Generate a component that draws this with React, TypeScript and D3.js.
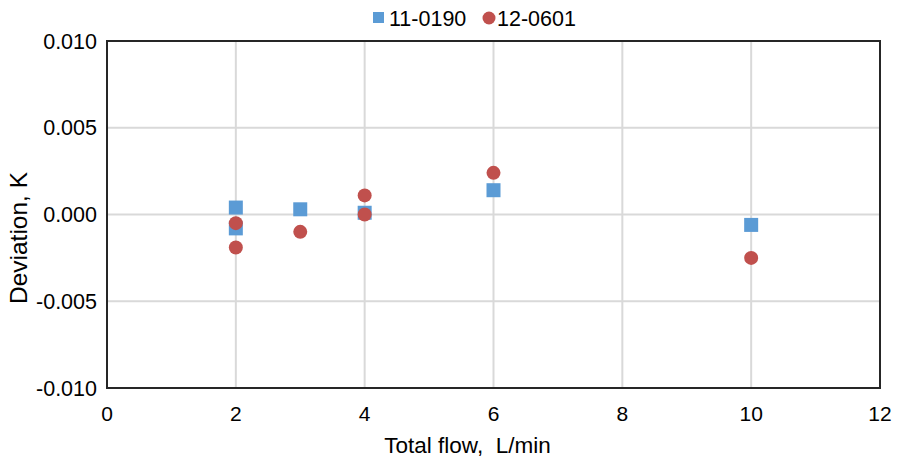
import React from "react";
import * as d3 from "d3";

const xTicks = [0, 2, 4, 6, 8, 10, 12];
const yTicks = [-0.01, -0.005, 0, 0.005, 0.01];

const seriesA_name = "11-0190";
const seriesA_x = [2, 2, 3, 4, 6, 10];
const seriesA_y = [0.0004, -0.0008, 0.0003, 0.0001, 0.0014, -0.0006];

const seriesB_name = "12-0601";
const seriesB_x = [2, 2, 3, 4, 4, 6, 10];
const seriesB_y = [-0.0005, -0.0019, -0.001, 0.0011, 0.0, 0.0024, -0.0025];

const W = 898;
const H = 458;
const M = { left: 107, right: 880, top: 41, bottom: 388 };

export default function App() {
  const x = d3.scaleLinear().domain([0, 12]).range([M.left, M.right]);
  const y = d3.scaleLinear().domain([-0.01, 0.01]).range([M.bottom, M.top]);
  const font = "'Liberation Sans', Arial, sans-serif";
  const blue = "#5B9BD5";
  const red = "#C0504D";
  const sq = 14;
  return (
    <svg
      width={W}
      height={H}
      style={{ position: "absolute", left: 0, top: 0, background: "#fff" }}
      fontFamily={font}
    >
      {xTicks.map((t) => (
        <line key={"gx" + t} x1={x(t)} x2={x(t)} y1={M.top} y2={M.bottom} stroke="#d9d9d9" strokeWidth={2} />
      ))}
      {yTicks.map((t) => (
        <line key={"gy" + t} x1={M.left} x2={M.right} y1={y(t)} y2={y(t)} stroke="#d9d9d9" strokeWidth={2} />
      ))}
      <rect
        x={M.left}
        y={M.top}
        width={M.right - M.left}
        height={M.bottom - M.top}
        fill="none"
        stroke="#262626"
        strokeWidth={2}
      />
      {yTicks.map((t) => (
        <text key={"ly" + t} x={97} y={y(t)} dy="0.35em" textAnchor="end" fontSize={21.5} fill="#000">
          {d3.format(".3f")(t).replace("−", "-")}
        </text>
      ))}
      {xTicks.map((t) => (
        <text key={"lx" + t} x={x(t)} y={421} textAnchor="middle" fontSize={21} fill="#000">
          {t}
        </text>
      ))}
      <text x={467.5} y={453} textAnchor="middle" fontSize={22.5} fill="#000">
        {"Total flow,\u00a0 L/min"}
      </text>
      <text
        transform={`translate(27,238) rotate(-90)`}
        textAnchor="middle"
        fontSize={24.5}
        fill="#000"
      >
        Deviation, K
      </text>
      {seriesA_x.map((v, i) => (
        <rect
          key={"a" + i}
          x={x(v) - sq / 2}
          y={y(seriesA_y[i]) - sq / 2}
          width={sq}
          height={sq}
          fill={blue}
        />
      ))}
      {seriesB_x.map((v, i) => (
        <circle key={"b" + i} cx={x(v)} cy={y(seriesB_y[i])} r={7} fill={red} />
      ))}
      <rect x={373} y={12} width={11} height={11} fill={blue} />
      <text x={389} y={26} fontSize={21.5} fill="#000">{seriesA_name}</text>
      <circle cx={489} cy={18} r={6.5} fill={red} />
      <text x={497} y={26} fontSize={21.5} fill="#000">{seriesB_name}</text>
    </svg>
  );
}
